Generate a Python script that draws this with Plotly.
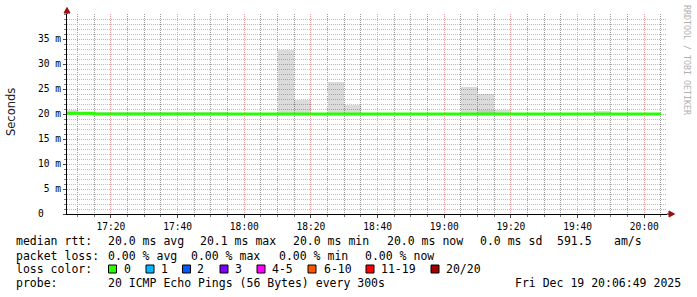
import pandas as pd
import plotly.graph_objects as go

# ---------------- data ----------------
day = "2025-12-19"
bin_start = pd.date_range(f"{day} 17:05", f"{day} 20:00", freq="5min")  # 36 bins, 5-min steps
median_ms = [20.15, 20.15] + [20.0] * 34
smoke_max_ms = [
    20.9, 20.4, 20.45, 20.45, 20.45, 20.45, 20.45, 20.45, 20.45, 20.45, 20.1,   # 17:05-17:55
    20.1, 20.1, 32.8, 22.9, 20.1, 26.5, 21.8, 20.1, 20.1, 20.1, 20.1, 20.1,      # 18:00-18:55
    20.1, 25.5, 24.1, 20.9, 20.1, 20.1, 20.1, 20.1, 20.1, 20.6, 20.1, 20.1,      # 19:00-19:55
    20.1,                                                                          # 20:00
]
smoke_min_ms = [19.9] * 36
smoke_dark_max_ms = [None] * 36
smoke_dark_max_ms[25] = 20.8  # 19:10 bin

y_tickvals = [0, 5, 10, 15, 20, 25, 30, 35]
y_ticktext = ["0\u00a0\u00a0\u00a0", "5 m", "10 m", "15 m", "20 m", "25 m", "30 m", "35 m"]

stats_row1 = ["median rtt:", "20.0 ms avg", "20.1 ms max", "20.0 ms min", "20.0 ms now", "0.0 ms sd", "591.5", "am/s"]
stats_row2 = ["packet loss:", "0.00 % avg", "0.00 % max", "0.00 % min", "0.00 % now"]
loss_labels = ["0", "1", "2", "3", "4-5", "6-10", "11-19", "20/20"]
loss_colors = ["#26ff00", "#00b8ff", "#0059ff", "#7e00ff", "#ff00ff", "#ff5500", "#ff0000", "#a10000"]
probe_text = "20 ICMP Echo Pings (56 Bytes) every 300s"
stamp_text = "Fri Dec 19 20:06:49 2025"

# ---------------- layout geometry ----------------
W, H = 697, 297
L, R, T, B = 67, 30, 14, 83
PW, PH = W - L - R, H - T - B
def px(x): return (x - L) / PW
def py(y): return (H - B - y) / PH

MONO = "DejaVu Sans Mono"

fig = go.Figure()

centers = [t + pd.Timedelta(seconds=150) for t in bin_start]
fig.add_trace(go.Bar(
    x=centers, base=smoke_min_ms,
    y=[mx - mn for mx, mn in zip(smoke_max_ms, smoke_min_ms)],
    width=300000, marker=dict(color="rgba(0,0,0,0.14)", line=dict(width=0)),
    hoverinfo="skip"))
fig.add_trace(go.Bar(
    x=centers, base=smoke_min_ms,
    y=[(d - mn) if d is not None else None for d, mn in zip(smoke_dark_max_ms, smoke_min_ms)],
    width=300000, marker=dict(color="rgba(0,0,0,0.08)", line=dict(width=0)),
    hoverinfo="skip"))

line_x = list(bin_start) + [bin_start[-1] + pd.Timedelta(minutes=5)]
line_y = median_ms + [median_ms[-1]]
fig.add_trace(go.Scatter(x=line_x, y=line_y, mode="lines", line=dict(color="#26ff00", width=3, shape="hv"),
                         hoverinfo="skip"))

minor_grid = "#bdbdbd"
major_grid = "#eaa0a0"
fig.update_layout(
    width=W, height=H, margin=dict(l=L, r=R, t=T, b=B),
    paper_bgcolor="white", plot_bgcolor="white",
    showlegend=False, barmode="overlay", bargap=0,
    xaxis=dict(
        range=[f"{day} 17:06:49", f"{day} 20:06:49"],
        tick0=f"{day} 17:20", dtick=1200000, tickformat="%H:%M",
        showgrid=True, gridcolor=major_grid, griddash="1px,1px", gridwidth=1,
        showline=True, linecolor="black", linewidth=1,
        ticks="outside", ticklen=3, tickcolor="#444",
        tickfont=dict(family=MONO, size=9.6, color="black"),
        minor=dict(tick0=f"{day} 17:05", dtick=300000, showgrid=True, gridcolor="#9a9a9a",
                   griddash="1px,1px", gridwidth=1, ticks="outside", ticklen=2, tickcolor="#777"),
        zeroline=False, fixedrange=True,
    ),
    yaxis=dict(
        range=[0, 40], tickvals=y_tickvals, ticktext=y_ticktext,
        showgrid=True, gridcolor=major_grid, griddash="1px,1px", gridwidth=1,
        showline=True, linecolor="black", linewidth=1,
        ticks="outside", ticklen=3, tickcolor="#444",
        tickfont=dict(family=MONO, size=9.6, color="black"),
        minor=dict(dtick=1, showgrid=True, gridcolor=minor_grid, griddash="1px,1px", gridwidth=1,
                   ticks="outside", ticklen=2, tickcolor="#777"),
        zeroline=False, fixedrange=True,
    ),
)

shapes = []
arrow_col = "#9a1010"
# y-axis extension + arrow
shapes.append(dict(type="line", xref="paper", yref="paper", x0=px(67), x1=px(67), y0=py(T), y1=py(11),
                   line=dict(color="black", width=1)))
shapes.append(dict(type="path", xref="paper", yref="paper",
                   path=f"M {px(64)},{py(13)} L {px(70)},{py(13)} L {px(67)},{py(7.5)} Z",
                   fillcolor=arrow_col, line=dict(color=arrow_col, width=1)))
# x-axis extension + arrow
shapes.append(dict(type="line", xref="paper", yref="paper", x0=px(W - R), x1=px(670), y0=py(214), y1=py(214),
                   line=dict(color="black", width=1)))
shapes.append(dict(type="path", xref="paper", yref="paper",
                   path=f"M {px(669)},{py(211)} L {px(669)},{py(217)} L {px(674.5)},{py(214)} Z",
                   fillcolor=arrow_col, line=dict(color=arrow_col, width=1)))

annotations = []
def text(x, y, s, size=11.5, color="black", family=MONO, anchor="left", angle=0):
    annotations.append(dict(xref="paper", yref="paper", x=px(x), y=py(y), text=s, showarrow=False,
                            xanchor=anchor, yanchor="middle", textangle=angle,
                            font=dict(family=family, size=size, color=color), borderpad=0))

row1_x = [16, 108, 200, 293, 387, 480, 557, 614]
for xx, s in zip(row1_x, stats_row1):
    text(xx - 1, 241, s)
row2_x = [16, 108, 191, 279, 365]
for xx, s in zip(row2_x, stats_row2):
    text(xx - 1, 255.5, s)
text(15, 269, "loss color:")
box_x = [108.5, 146, 182.5, 220, 257, 308, 366, 431]
lab_x = [123.5, 161, 197, 234.5, 272, 323.5, 381, 445.5]
for bx, lx, lab, col in zip(box_x, lab_x, loss_labels, loss_colors):
    shapes.append(dict(type="rect", xref="paper", yref="paper", x0=px(bx), x1=px(bx + 8),
                       y0=py(273), y1=py(265), fillcolor=col, line=dict(color="black", width=1)))
    text(lx - 1, 269, lab)
text(15, 283, "probe:")
text(107, 283, probe_text)
text(682, 283, stamp_text, anchor="right")

text(11, 112, "Seconds", size=11.5, family="DejaVu Sans", color="#202020", anchor="center", angle=-90)
text(687, 60, "RRDTOOL / TOBI OETIKER", size=8.3, color="#b0b0b0", anchor="center", angle=90)

fig.update_layout(shapes=shapes, annotations=annotations)
fig.write_html("out.html")
